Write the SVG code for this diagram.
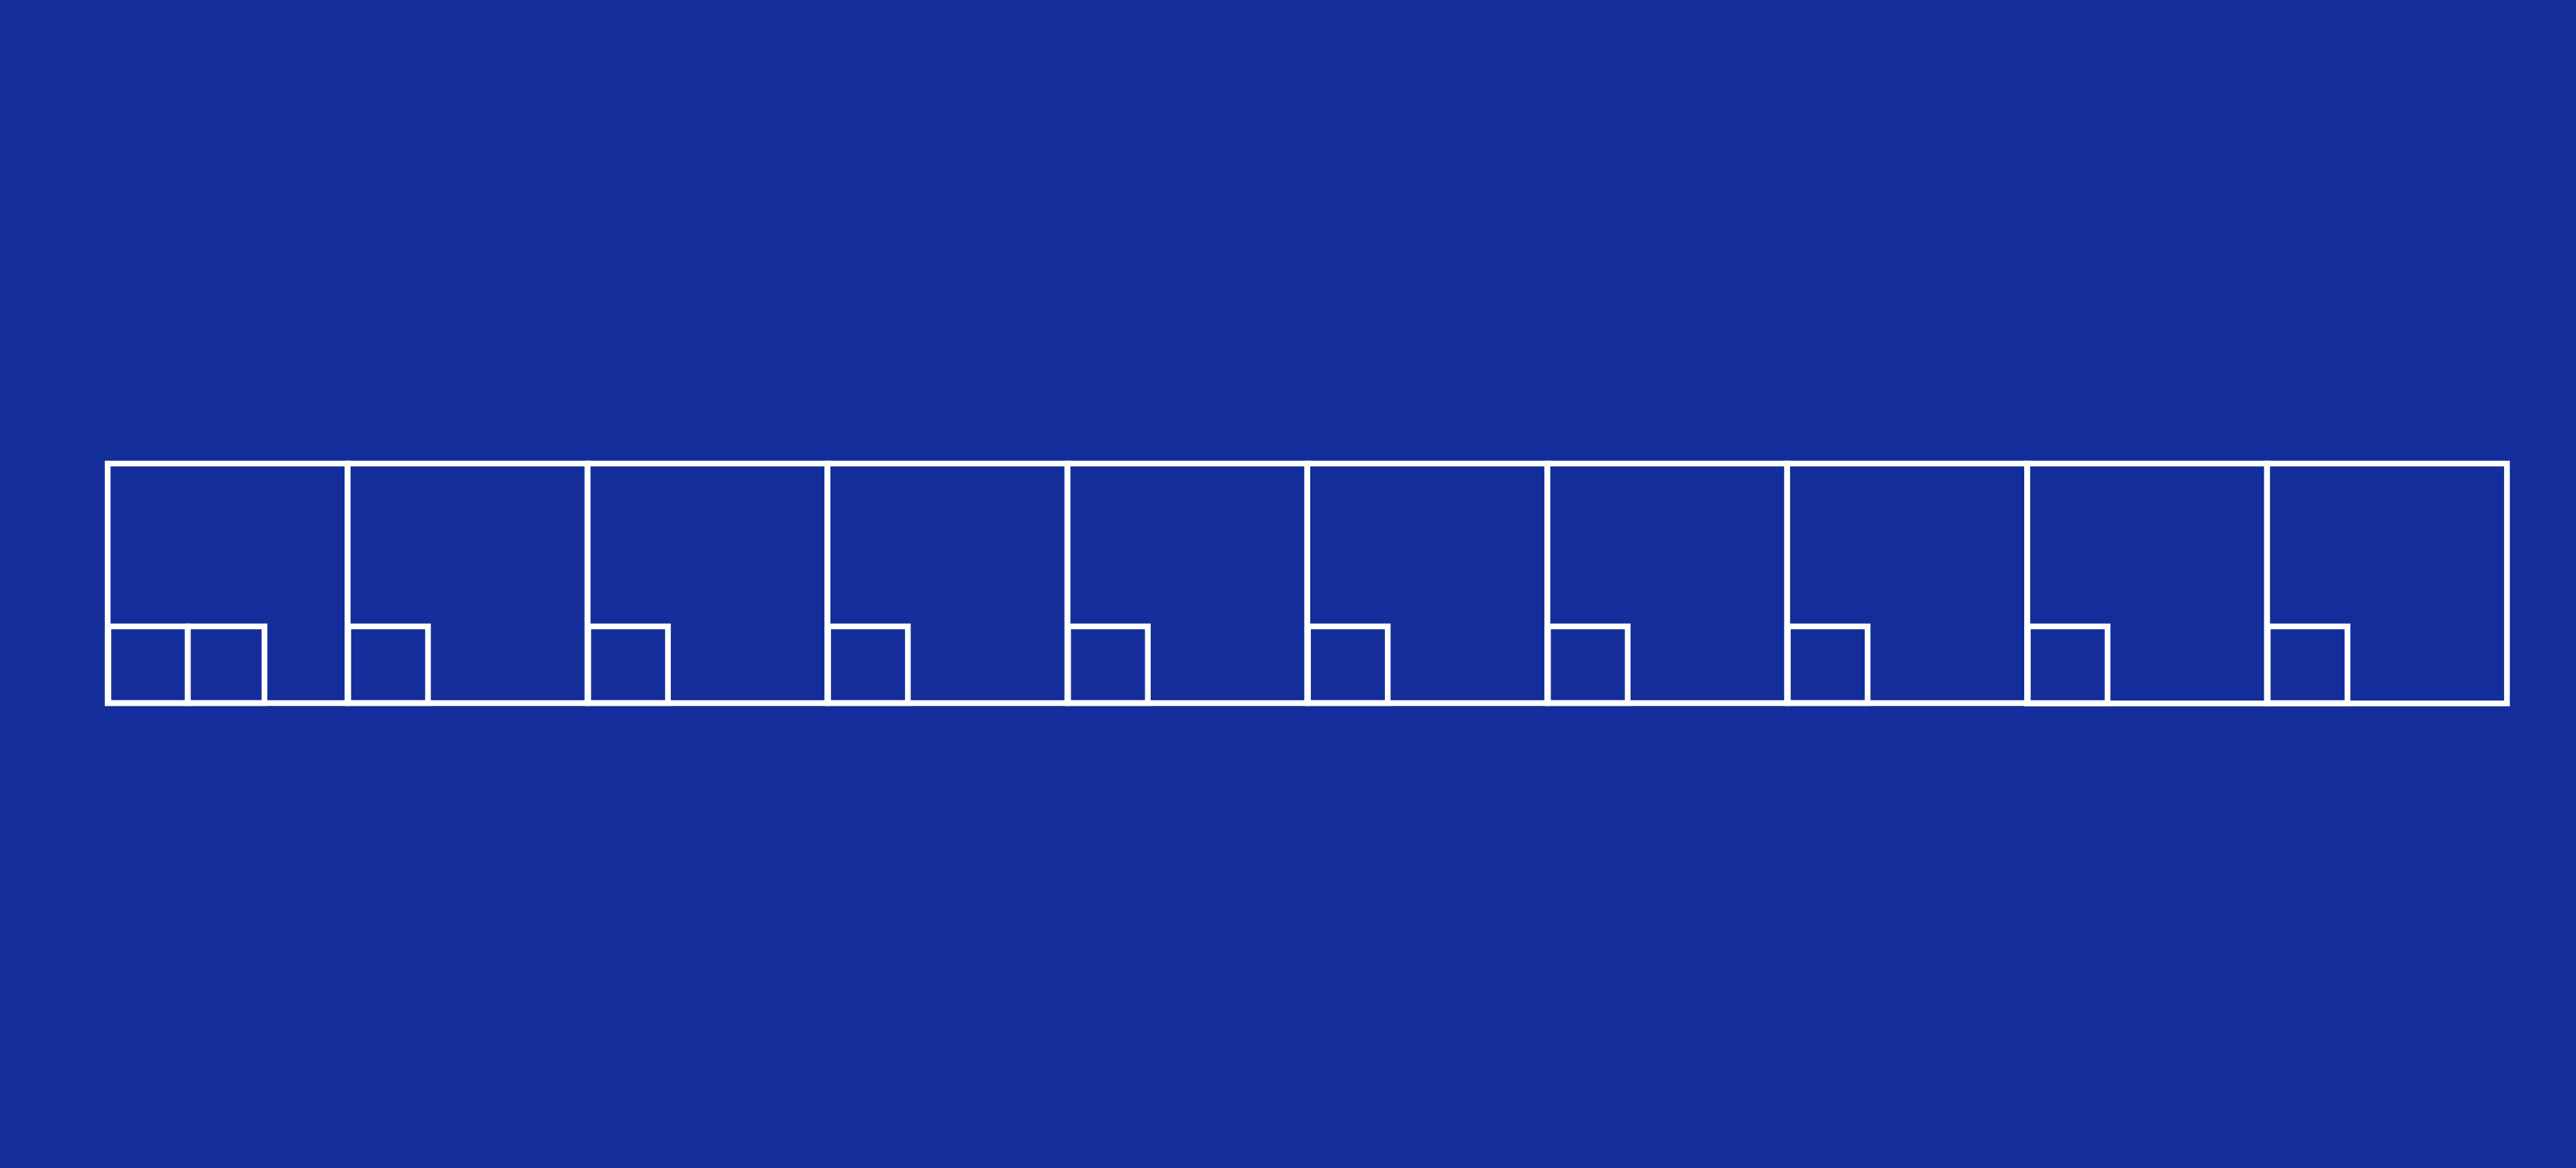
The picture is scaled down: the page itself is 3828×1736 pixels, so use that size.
<svg xmlns="http://www.w3.org/2000/svg" width="3828" height="1736" viewBox="0 0 3828 1736">
<style>
.b{fill:none;stroke:#ffffff;stroke-width:8.5}
</style>
<rect x="0" y="0" width="3828" height="1736" fill="#132E9B"/>
<g id="cell1"><rect class="b" x="160" y="689" width="356.5" height="356"/><rect class="b" x="161" y="931" width="118" height="114"/><rect class="b" x="279" y="931" width="114" height="114"/></g>
<g id="cell2"><rect class="b" x="516.5" y="689" width="356.5" height="356"/><rect class="b" x="517.5" y="931" width="118.5" height="114"/></g>
<g id="cell3"><rect class="b" x="873.1" y="689" width="356.5" height="356"/><rect class="b" x="874.1" y="931" width="118.5" height="114"/></g>
<g id="cell4"><rect class="b" x="1229.6" y="689" width="356.5" height="356"/><rect class="b" x="1230.6" y="931" width="118.5" height="114"/></g>
<g id="cell5"><rect class="b" x="1586.2" y="689" width="356.5" height="356"/><rect class="b" x="1587.2" y="931" width="118.5" height="114"/></g>
<g id="cell6"><rect class="b" x="1942.7" y="689" width="356.5" height="356"/><rect class="b" x="1943.7" y="931" width="118.5" height="114"/></g>
<g id="cell7"><rect class="b" x="2299.3" y="689" width="356.5" height="356"/><rect class="b" x="2300.3" y="931" width="118.5" height="114"/></g>
<g id="cell8"><rect class="b" x="2655.8" y="689" width="356.5" height="356"/><rect class="b" x="2656.8" y="931" width="118.5" height="114"/></g>
<g id="cell9"><rect class="b" x="3012.4" y="689" width="356.5" height="356.5"/><rect class="b" x="3013.4" y="931" width="118.5" height="114"/></g>
<g id="cell10"><rect class="b" x="3368.9" y="689" width="356.5" height="356.5"/><rect class="b" x="3369.9" y="931" width="118.5" height="114"/></g>
<g id="connectors"></g>
</svg>
